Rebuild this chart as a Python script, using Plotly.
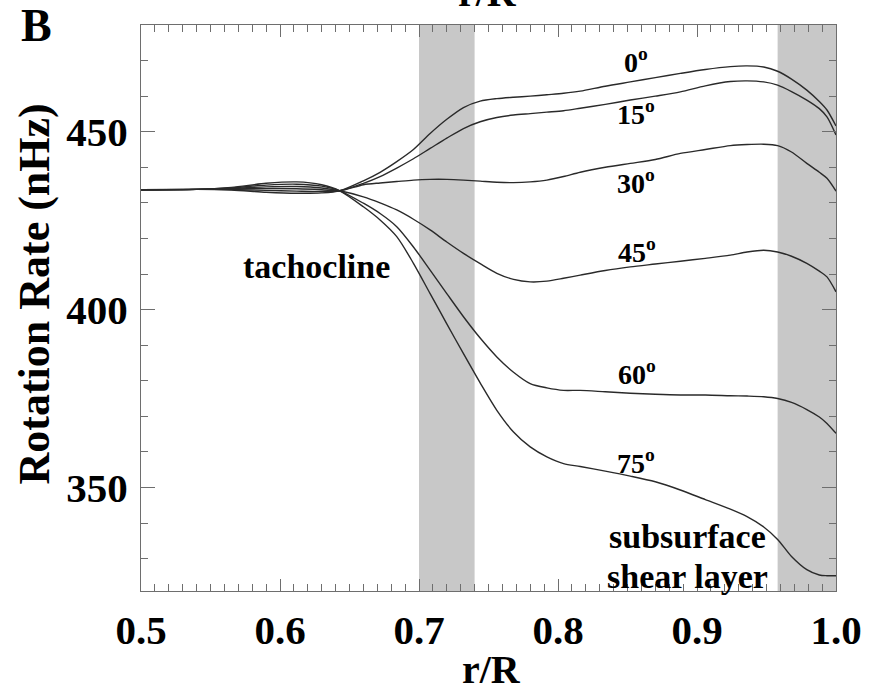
import plotly.graph_objects as go

# radius grid (r/R)
r = [0.50, 0.54, 0.565, 0.59, 0.612, 0.63, 0.643, 0.66, 0.672, 0.684, 0.696, 0.708,
     0.72, 0.732, 0.744, 0.756, 0.768, 0.78, 0.792, 0.804, 0.816, 0.834, 0.852, 0.87,
     0.888, 0.906, 0.924, 0.936, 0.948, 0.958, 0.968, 0.979, 0.988, 0.9935, 1.0]

rot_0 = [433.7, 433.8, 433.6, 433.0, 432.7, 432.8, 433.4, 436.2, 438.6, 441.6, 445.0, 449.5,
         453.5, 456.8, 458.6, 459.3, 459.7, 460.0, 460.4, 460.8, 461.4, 462.8, 464.0, 465.2,
         466.4, 467.5, 468.3, 468.5, 468.2, 467.0, 464.8, 461.7, 458.5, 456.1, 451.6]
rot_15 = [433.7, 433.8, 433.75, 433.5, 433.3, 433.2, 433.4, 435.5, 437.4, 439.8, 442.4, 445.3,
          448.2, 450.9, 452.8, 454.0, 454.7, 455.1, 455.5, 455.9, 456.6, 457.7, 458.9, 460.0,
          461.2, 462.9, 464.1, 464.3, 464.0, 463.1, 461.3, 458.9, 456.5, 454.2, 449.1]
rot_30 = [433.7, 433.8, 433.9, 434.0, 433.95, 433.7, 433.4, 435.1, 435.6, 436.0, 436.4, 436.6,
          436.6, 436.4, 436.1, 435.8, 435.7, 435.9, 436.4, 437.4, 438.6, 440.0, 441.1, 442.2,
          443.9, 445.0, 446.1, 446.4, 446.5, 446.1, 444.3, 441.1, 438.6, 436.9, 433.3]
rot_45 = [433.7, 433.8, 434.05, 434.5, 434.6, 434.2, 433.4, 431.7, 430.0, 428.0, 425.4, 422.4,
          419.0, 415.8, 412.9, 410.2, 408.5, 407.8, 408.0, 408.8, 409.7, 411.0, 412.0, 412.8,
          413.6, 414.4, 415.3, 416.2, 416.7, 416.2, 415.0, 413.0, 410.8, 409.2, 405.0]
rot_60 = [433.7, 433.8, 434.2, 435.0, 435.25, 434.7, 433.4, 429.9, 427.0, 423.3, 417.6, 411.1,
          404.5, 398.0, 392.0, 386.7, 382.4, 379.2, 378.0, 377.3, 377.3, 376.9, 376.5, 376.2,
          376.0, 376.0, 375.8, 375.7, 375.5, 375.0, 373.9, 371.9, 369.8, 368.0, 365.2]
rot_75 = [433.7, 433.8, 434.35, 435.5, 435.9, 435.1, 433.4, 428.9, 425.2, 420.5, 413.0, 404.5,
          396.0, 387.6, 379.4, 371.7, 365.6, 361.4, 358.6, 356.7, 355.9, 354.6, 353.2, 351.6,
          349.3, 346.6, 343.9, 341.8, 338.9, 335.4, 330.6, 326.9, 325.4, 325.2, 325.2]

series = [rot_0, rot_15, rot_30, rot_45, rot_60, rot_75]
lat_labels = ["0<sup>o</sup>", "15<sup>o</sup>", "30<sup>o</sup>",
              "45<sup>o</sup>", "60<sup>o</sup>", "75<sup>o</sup>"]
lat_label_r = [0.856, 0.856, 0.856, 0.857, 0.857, 0.856]
lat_label_v = [470.0, 455.5, 436.1, 416.7, 382.4, 357.4]

bands = [(0.70, 0.74), (0.958, 1.0)]

x_ticks = [0.5, 0.6, 0.7, 0.8, 0.9, 1.0]
x_tick_text = ["0.5", "0.6", "0.7", "0.8", "0.9", "1.0"]
y_ticks = [350, 400, 450]

FONT = "Liberation Serif"
LINE = "#2a2a2a"
AX = "#6e6e6e"

fig = go.Figure()
for s in series:
    fig.add_trace(go.Scatter(x=r, y=s, mode="lines",
                             line=dict(color=LINE, width=1.4, shape="spline", smoothing=0.8),
                             showlegend=False, hoverinfo="skip"))

for x0, x1 in bands:
    fig.add_shape(type="rect", xref="x", yref="paper", x0=x0, x1=x1, y0=0, y1=1,
                  fillcolor="#c8c8c8", line=dict(width=0), layer="below")

ann = []
for t, xr, yv in zip(lat_labels, lat_label_r, lat_label_v):
    ann.append(dict(x=xr, y=yv, xref="x", yref="y", text=t, showarrow=False,
                    font=dict(family=FONT, size=28, color="black", weight="bold")))
ann.append(dict(x=0.626, y=412.2, xref="x", yref="y", text="tachocline", showarrow=False,
                font=dict(family=FONT, size=34, color="black", weight="bold")))
ann.append(dict(x=0.8935, y=336.3, xref="x", yref="y", text="subsurface", showarrow=False,
                font=dict(family=FONT, size=34, color="black", weight="bold")))
ann.append(dict(x=0.8935, y=325.0, xref="x", yref="y", text="shear layer", showarrow=False,
                font=dict(family=FONT, size=34, color="black", weight="bold")))
ann.append(dict(x=-0.15, y=1.0, xref="paper", yref="paper", text="B", showarrow=False,
                xanchor="center", yanchor="middle",
                font=dict(family=FONT, size=46, color="black", weight="bold")))
ann.append(dict(x=0.504, y=0, xref="paper", yref="paper", text="r/R", showarrow=False,
                xanchor="center", yanchor="top", yshift=-54,
                font=dict(family=FONT, size=40, color="black", weight="bold")))
ann.append(dict(x=0.499, y=1, xref="paper", yref="paper", text="r/R", showarrow=False,
                xanchor="center", yanchor="bottom", yshift=8,
                font=dict(family=FONT, size=40, color="black", weight="bold")))
ann.append(dict(x=-0.153, y=0.525, xref="paper", yref="paper", text="Rotation Rate (nHz)",
                showarrow=False, textangle=-90, xanchor="center", yanchor="middle",
                font=dict(family=FONT, size=44, color="black", weight="bold")))

fig.update_layout(
    width=869, height=689,
    margin=dict(l=141, r=33, t=25, b=98, autoexpand=False),
    paper_bgcolor="white", plot_bgcolor="white",
    annotations=ann,
    xaxis=dict(range=[0.5, 1.0], tickvals=x_ticks, ticktext=x_tick_text, automargin=False,
               ticks="inside", ticklen=12, tickwidth=1, tickcolor=AX,
               showline=True, linecolor=AX, linewidth=1.2, mirror="ticks",
               showgrid=False, zeroline=False, ticklabelstandoff=3,
               tickfont=dict(family=FONT, size=41, color="black", weight="bold"),
               minor=dict(dtick=0.01, tick0=0.5, ticks="inside", ticklen=7,
                          tickcolor=AX, showgrid=False)),
    yaxis=dict(range=[320.9, 480.0], tickvals=y_ticks, automargin=False,
               ticks="inside", ticklen=14, tickwidth=1, tickcolor=AX,
               showline=True, linecolor=AX, linewidth=1.2, mirror="ticks",
               showgrid=False, zeroline=False, ticklabelstandoff=4,
               tickfont=dict(family=FONT, size=41, color="black", weight="bold"),
               minor=dict(dtick=10, tick0=350, ticks="inside", ticklen=7,
                          tickcolor=AX, showgrid=False)),
)

fig.write_html("out.html")
